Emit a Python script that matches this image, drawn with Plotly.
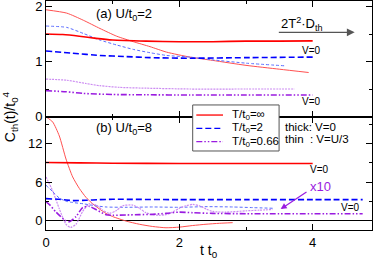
import plotly.graph_objects as go

# ---------------- data: panel (a) U/t0=2 ----------------
t_a_red_thick = [0, 0.25, 0.5, 0.75, 1.0, 1.5, 2.0, 2.5, 3.0, 3.5, 4.0]
c_a_red_thick = [1.50, 1.49, 1.46, 1.42, 1.39, 1.37, 1.36, 1.36, 1.37, 1.37, 1.375]
t_a_red_thin = [0, 0.31, 0.56, 0.81, 1.06, 1.31, 1.56, 1.81, 2.16, 2.5, 3.0, 3.5, 3.94]
c_a_red_thin = [1.94, 1.88, 1.75, 1.60, 1.46, 1.36, 1.27, 1.17, 1.08, 1.02, 0.93, 0.86, 0.80]
t_a_blue_thick = [0, 0.4, 0.81, 1.2, 1.56, 2.16, 3.0, 4.0]
c_a_blue_thick = [1.19, 1.15, 1.11, 1.09, 1.07, 1.06, 1.07, 1.08]
t_a_blue_thin = [0, 0.31, 0.56, 0.81, 1.06, 1.31, 1.56, 1.81, 2.16, 2.5, 3.0, 3.6]
c_a_blue_thin = [1.645, 1.62, 1.51, 1.39, 1.30, 1.22, 1.16, 1.11, 1.08, 1.03, 0.97, 0.92]
t_a_pur_thick = [0, 0.3, 0.56, 1.0, 1.5, 2.16, 3.0, 4.0]
c_a_pur_thick = [0.47, 0.45, 0.42, 0.40, 0.395, 0.39, 0.39, 0.39]
t_a_pur_thin = [0, 0.31, 0.6, 0.81, 1.1, 1.5, 2.16, 3.0, 3.73]
c_a_pur_thin = [0.68, 0.66, 0.60, 0.56, 0.53, 0.515, 0.50, 0.50, 0.50]

# ---------------- data: panel (b) U/t0=8 ----------------
t_b_red_thick = [0, 0.5, 1.0, 2.0, 3.0, 4.0]
c_b_red_thick = [9.05, 9.0, 8.95, 8.9, 8.9, 8.9]
t_b_red_thin = [0, 0.1, 0.2, 0.3, 0.4, 0.5, 0.6, 0.7, 0.8, 0.9, 1.0, 1.2, 1.4, 1.6, 1.8, 2.0, 2.2, 2.4, 2.6, 2.8]
c_b_red_thin = [16.2, 15.4, 13.2, 9.6, 6.8, 5.0, 3.6, 2.6, 1.8, 1.1, 0.6, -0.1, -0.6, -0.95, -1.15, -1.05, -0.8, -0.6, -0.45, -0.35]
t_b_blue_thick = [0, 0.2, 0.4, 0.6, 0.8, 1.0, 2.0, 3.0, 4.0, 4.75]
c_b_blue_thick = [3.4, 3.3, 3.1, 3.15, 3.25, 3.3, 3.25, 3.25, 3.25, 3.25]
t_b_blue_thin = [0, 0.1, 0.2, 0.3, 0.4, 0.56, 0.7, 0.9, 1.2, 1.6, 2.0, 2.4, 2.8, 3.1, 3.4]
c_b_blue_thin = [5.5, 4.5, 3.5, 3.0, 2.8, 2.6, 2.35, 2.1, 2.05, 2.1, 2.05, 2.15, 2.1, 2.0, 1.9]
t_b_pur_thick = [0, 0.06, 0.15, 0.29, 0.35, 0.45, 0.55, 0.65, 0.75, 0.9, 1.0, 1.2, 1.4, 1.6, 1.8, 2.0, 2.2, 2.5, 3.0, 3.5, 4.0, 4.75]
c_b_pur_thick = [2.9, 2.4, 1.3, 0.0, -0.2, 0.6, 2.0, 2.2, 1.7, 0.9, 0.8, 0.85, 0.9, 0.95, 1.1, 1.3, 1.2, 1.1, 1.05, 1.05, 1.05, 1.05]
t_b_pur_thin = [0, 0.1, 0.2, 0.3, 0.37, 0.45, 0.55, 0.65, 0.75, 0.85, 0.95, 1.05, 1.15, 1.3, 1.4, 1.5, 1.6, 1.7, 1.8, 1.9, 2.0, 2.1, 2.2, 2.3, 2.4, 2.5, 2.7, 3.0, 3.2, 3.4]
c_b_pur_thin = [6.8, 4.6, 1.8, -0.6, -1.1, -0.6, 1.4, 2.6, 2.4, 1.6, 1.1, 1.5, 2.3, 2.4, 1.9, 1.2, 0.9, 0.8, 0.9, 1.3, 1.9, 2.3, 2.5, 2.3, 1.8, 1.4, 1.3, 1.5, 1.6, 1.7]

x_ticks = [0, 2, 4]
ya_ticks = [0, 1, 2]
yb_ticks = [0, 6, 12]
legend_labels = ["T/t<sub>0</sub>=\u221e", "T/t<sub>0</sub>=2", "T/t<sub>0</sub>=0.66"]

RED = "#ff0000"
RED_L = "#ff5050"
BLUE = "#0000ff"
BLUE_L = "#5a6cff"
PUR = "#9a1be0"
PUR_L = "#cc8cf2"
FONT = "Liberation Sans, Arial, sans-serif"

fig = go.Figure()

def add(t, c, color, width, dash, xa, ya):
    fig.add_trace(go.Scatter(x=t, y=c, mode="lines", xaxis=xa, yaxis=ya,
                             line=dict(color=color, width=width, dash=dash, shape="spline", smoothing=0.6),
                             showlegend=False, hoverinfo="skip"))

# panel a
add(t_a_red_thin, c_a_red_thin, RED_L, 1, "solid", "x2", "y2")
add(t_a_blue_thin, c_a_blue_thin, BLUE_L, 1, "3px,2px", "x2", "y2")
add(t_a_pur_thin, c_a_pur_thin, PUR_L, 1.2, "2px,1px", "x2", "y2")
add(t_a_red_thick, c_a_red_thick, RED, 1.6, "solid", "x2", "y2")
add(t_a_blue_thick, c_a_blue_thick, BLUE, 1.6, "6px,3px", "x2", "y2")
add(t_a_pur_thick, c_a_pur_thick, PUR, 1.6, "6px,2px,1.5px,2px,1.5px,2px", "x2", "y2")
# panel b
add(t_b_red_thin, c_b_red_thin, RED_L, 1, "solid", "x", "y")
add(t_b_blue_thin, c_b_blue_thin, BLUE_L, 1, "3px,2px", "x", "y")
add(t_b_pur_thin, c_b_pur_thin, PUR_L, 1.2, "2px,1px", "x", "y")
add(t_b_red_thick, c_b_red_thick, RED, 1.6, "solid", "x", "y")
add(t_b_blue_thick, c_b_blue_thick, BLUE, 1.6, "6px,3px", "x", "y")
add(t_b_pur_thick, c_b_pur_thick, PUR, 1.6, "6px,2px,1.5px,2px,1.5px,2px", "x", "y")

split = 0.4956
axis_common = dict(showline=True, linecolor="black", linewidth=1, mirror="ticks",
                   ticks="inside", ticklen=6, tickcolor="black", showgrid=False, automargin=False,
                   ticklabeloverflow="allow",
                   tickfont=dict(family=FONT, size=13, color="black"))

fig.update_layout(
    width=374, height=261,
    margin=dict(l=46, r=2, t=1, b=31),
    paper_bgcolor="white", plot_bgcolor="white",
    font=dict(family=FONT, color="black"),
    showlegend=False,
    xaxis=dict(domain=[0, 1], anchor="y", range=[0, 4.89], tickvals=x_ticks, zeroline=False,
               minor=dict(tickvals=[1, 3], ticklen=3, ticks="inside", tickcolor="black"),
               **axis_common),
    xaxis2=dict(domain=[0, 1], anchor="y2", range=[0, 4.89], tickvals=x_ticks, zeroline=False,
                showticklabels=False, matches="x",
                minor=dict(tickvals=[1, 3], ticklen=3, ticks="inside", tickcolor="black"),
                **axis_common),
    yaxis=dict(domain=[0, split], anchor="x", range=[-1.5, 16.25], tickvals=yb_ticks,
               zeroline=True, zerolinecolor="black", zerolinewidth=1,
               minor=dict(tickvals=[3, 9, 15], ticklen=3, ticks="inside", tickcolor="black"),
               **axis_common),
    yaxis2=dict(domain=[split, 1], anchor="x2", range=[0, 2.1], tickvals=ya_ticks, zeroline=False,
                minor=dict(tickvals=[0.5, 1.5], ticklen=3, ticks="inside", tickcolor="black"),
                **axis_common),
)

ann = []
def txt(x, y, text, xref, yref, size=13, color="black", xanchor="center"):
    ann.append(dict(x=x, y=y, xref=xref, yref=yref, text=text, showarrow=False,
                    xanchor=xanchor, yanchor="middle", font=dict(family=FONT, size=size, color=color)))

txt(1.17, 1.86, "(a) U/t<sub>0</sub>=2", "x2", "y2")
txt(3.84, 1.68, "2T<sup>2</sup>\u00b7D<sub>th</sub>", "x2", "y2", size=13)
txt(3.98, 1.205, "V=0", "x2", "y2", size=10)
txt(3.98, 0.277, "V=0", "x2", "y2", size=10)
txt(1.17, 14.4, "(b) U/t<sub>0</sub>=8", "x", "y")
txt(4.1, 7.9, "V=0", "x", "y", size=10)
txt(4.56, 2.0, "V=0", "x", "y", size=10)
txt(4.11, 5.3, "x10", "x", "y", size=13, color=PUR)
txt(3.55, 14.6, "thick: V=0", "x", "y", size=11.5, xanchor="left")
txt(3.55, 12.7, "thin&nbsp;&nbsp;: V=U/3", "x", "y", size=11.5, xanchor="left")

# arrows
ann.append(dict(x=4.63, y=1.53, xref="x2", yref="y2", ax=3.47, ay=1.53, axref="x2", ayref="y2",
                text="", showarrow=True, arrowhead=2, arrowsize=1.2, arrowwidth=1.3, arrowcolor="#555555"))
ann.append(dict(x=3.52, y=1.77, xref="x", yref="y", ax=3.93, ay=4.6, axref="x", ayref="y",
                text="", showarrow=True, arrowhead=2, arrowsize=1, arrowwidth=1.2, arrowcolor=PUR))

# axis titles
ann.append(dict(x=-0.11, y=0.4934, xref="paper", yref="paper", text="C<sub>th</sub>(t)/t<sub>0</sub><sup>4</sup>",
                showarrow=False, textangle=-90, xanchor="center", yanchor="middle",
                font=dict(family=FONT, size=14, color="black")))
ann.append(dict(x=0.5, y=-0.092, xref="paper", yref="paper", text="t t<sub>0</sub>",
                showarrow=False, xanchor="center", yanchor="middle",
                font=dict(family=FONT, size=14, color="black")))

# manual legend
shapes = [dict(type="rect", xref="paper", yref="paper", x0=0.45, x1=0.715, y0=0.345, y1=0.546,
               line=dict(color="#555555", width=1), fillcolor="white", layer="above")]
leg_rows = [0.502, 0.444, 0.3856]
leg_styles = [(RED, "solid"), (BLUE, "6px,3px"), (PUR, "6px,2px,1.5px,2px,1.5px,2px")]
for (col, dsh), yy, lab in zip(leg_styles, leg_rows, legend_labels):
    shapes.append(dict(type="line", xref="paper", yref="paper", x0=0.4611, x1=0.543, y0=yy, y1=yy,
                       line=dict(color=col, width=1.3, dash=dsh), layer="above"))
    ann.append(dict(x=0.5644, y=yy, xref="paper", yref="paper", text=lab, showarrow=False,
                    xanchor="left", yanchor="middle", font=dict(family=FONT, size=11.5, color="black")))

fig.update_layout(annotations=ann, shapes=shapes)
fig.write_html("out.html", config={"displayModeBar": False},
               post_script="document.body.style.margin='0';document.body.style.overflow='hidden';")
